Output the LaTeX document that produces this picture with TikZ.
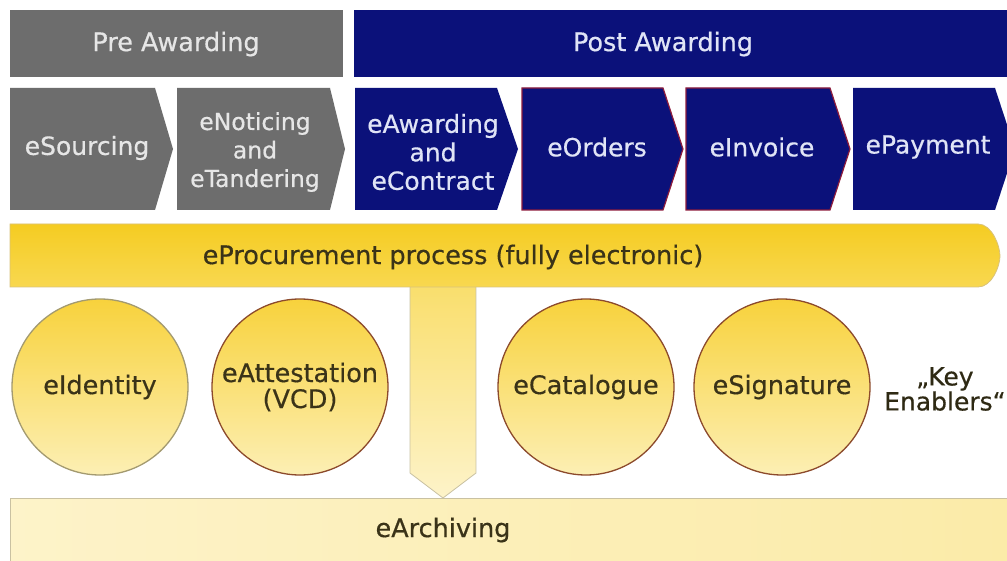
\documentclass[tikz,border=0pt]{standalone}
\usepackage{fontspec}
\setmainfont[FakeBold=0.5]{DejaVu Sans}
\definecolor{greybox}{HTML}{6D6D6D}
\definecolor{navybox}{HTML}{0B117A}
\definecolor{stageedge}{HTML}{8E1C3C}
\definecolor{greytext}{HTML}{E6E6E6}
\definecolor{navytext}{HTML}{E0E4F6}
\definecolor{darktext}{HTML}{3A3318}
\definecolor{barA}{HTML}{F5CC22}
\definecolor{barB}{HTML}{F8D850}
\definecolor{baredge}{HTML}{D9C27A}
\definecolor{circA}{HTML}{F8D23C}
\definecolor{circB}{HTML}{FCEFB4}
\definecolor{circedge}{HTML}{8C4A2C}
\definecolor{circedgeB}{HTML}{A39A70}
\definecolor{archA}{HTML}{FDF3C9}
\definecolor{archB}{HTML}{FBEBA8}
\definecolor{archedge}{HTML}{C9C1A2}
\newcommand{\stageshape}[4]{\fill[#4] (#1,88) -- (#2,88) -- (#3,149) -- (#2,210) -- (#1,210) -- cycle;}
\begin{document}
\begin{tikzpicture}[x=1pt,y=-1pt,
  headtext/.style={text=#1,font=\fontsize{25.5}{28}\selectfont,inner sep=0pt},
  stagetext/.style={text=#1,font=\fontsize{25}{28.5}\selectfont,align=center,inner sep=0pt},
  enabler/.style={circle,minimum size=176pt,inner sep=0pt,line width=1.3pt,
    top color=circA,bottom color=circB,draw=circedge,text=darktext,align=center,
    font=\fontsize{25.5}{26}\selectfont},
  bigtext/.style={text=darktext,font=\fontsize{25.5}{28}\selectfont,inner sep=0pt}]
\useasboundingbox (0,0) rectangle (1007,561);
\clip (0,0) rectangle (1007,561);
\fill[white] (0,0) rectangle (1007,561);

% phase headers
\fill[greybox] (10,10) rectangle (343,77);
\node[headtext=greytext] (pre) at (176,44) {Pre Awarding};
\fill[navybox] (354,10) rectangle (1007,77);
\node[headtext=navytext] (post) at (663,44) {Post Awarding};

% process stages
\stageshape{10}{155}{173}{greybox}
\stageshape{177}{330}{345}{greybox}
\stageshape{355}{497}{518}{navybox}
\stageshape{522}{663}{683}{navybox}
\stageshape{686}{830}{850}{navybox}
\stageshape{853}{995}{1015}{navybox}
\draw[stageedge,line width=1.2pt] (522,88) -- (663,88) -- (683,149) -- (663,210) -- (522,210) -- cycle;
\draw[stageedge,line width=1.2pt] (686,88) -- (830,88) -- (850,149) -- (830,210) -- (686,210) -- cycle;
\node[stagetext=greytext] (sourcing) at (87,148) {eSourcing};
\node[stagetext=greytext,font=\fontsize{23.5}{28.5}\selectfont] (noticing) at (255,152) {eNoticing\\and\\eTandering};
\node[stagetext=navytext] (awarding) at (433,152) {eAwarding\\and\\eContract};
\node[stagetext=navytext] (orders) at (597,147) {eOrders};
\node[stagetext=navytext] (invoice) at (762,147) {eInvoice};
\node[stagetext=navytext] (payment) at (928,147) {ePayment};

% archiving base
\shade[left color=archA,right color=archB] (10,498) rectangle (1007,561);
\draw[archedge,line width=1pt] (10,561) -- (10,498) -- (1007,498);
\node[bigtext] (archiving) at (443,530) {eArchiving};

% flow down into the archive
\draw[archedge,line width=0.8pt,top color=barB!85!white,bottom color=archA]
  (410,280) -- (476,280) -- (476,473) -- (443,498) -- (410,473) -- cycle;

% process bar
\draw[baredge,line width=0.8pt,top color=barA,bottom color=barB]
  (10,224) -- (978,224) .. controls (992,224) and (1000,246) .. (1000,256)
  .. controls (1000,266) and (992,287) .. (978,287) -- (10,287) -- cycle;
\node[bigtext] (process) at (453,257) {eProcurement process (fully electronic)};

% key enablers
\node[enabler,draw=circedgeB] (identity) at (100,387) {eIdentity};
\node[enabler] (attestation) at (300,387) {eAttestation\\(VCD)};
\node[enabler] (catalogue) at (586,387) {eCatalogue};
\node[enabler] (signature) at (782,387) {eSignature};
\node[text=darktext!80!black,align=center,font=\fontsize{25}{25}\selectfont,inner sep=0pt,anchor=west] (keys) at (884,389) {„Key\\Enablers“};
\end{tikzpicture}
\end{document}
